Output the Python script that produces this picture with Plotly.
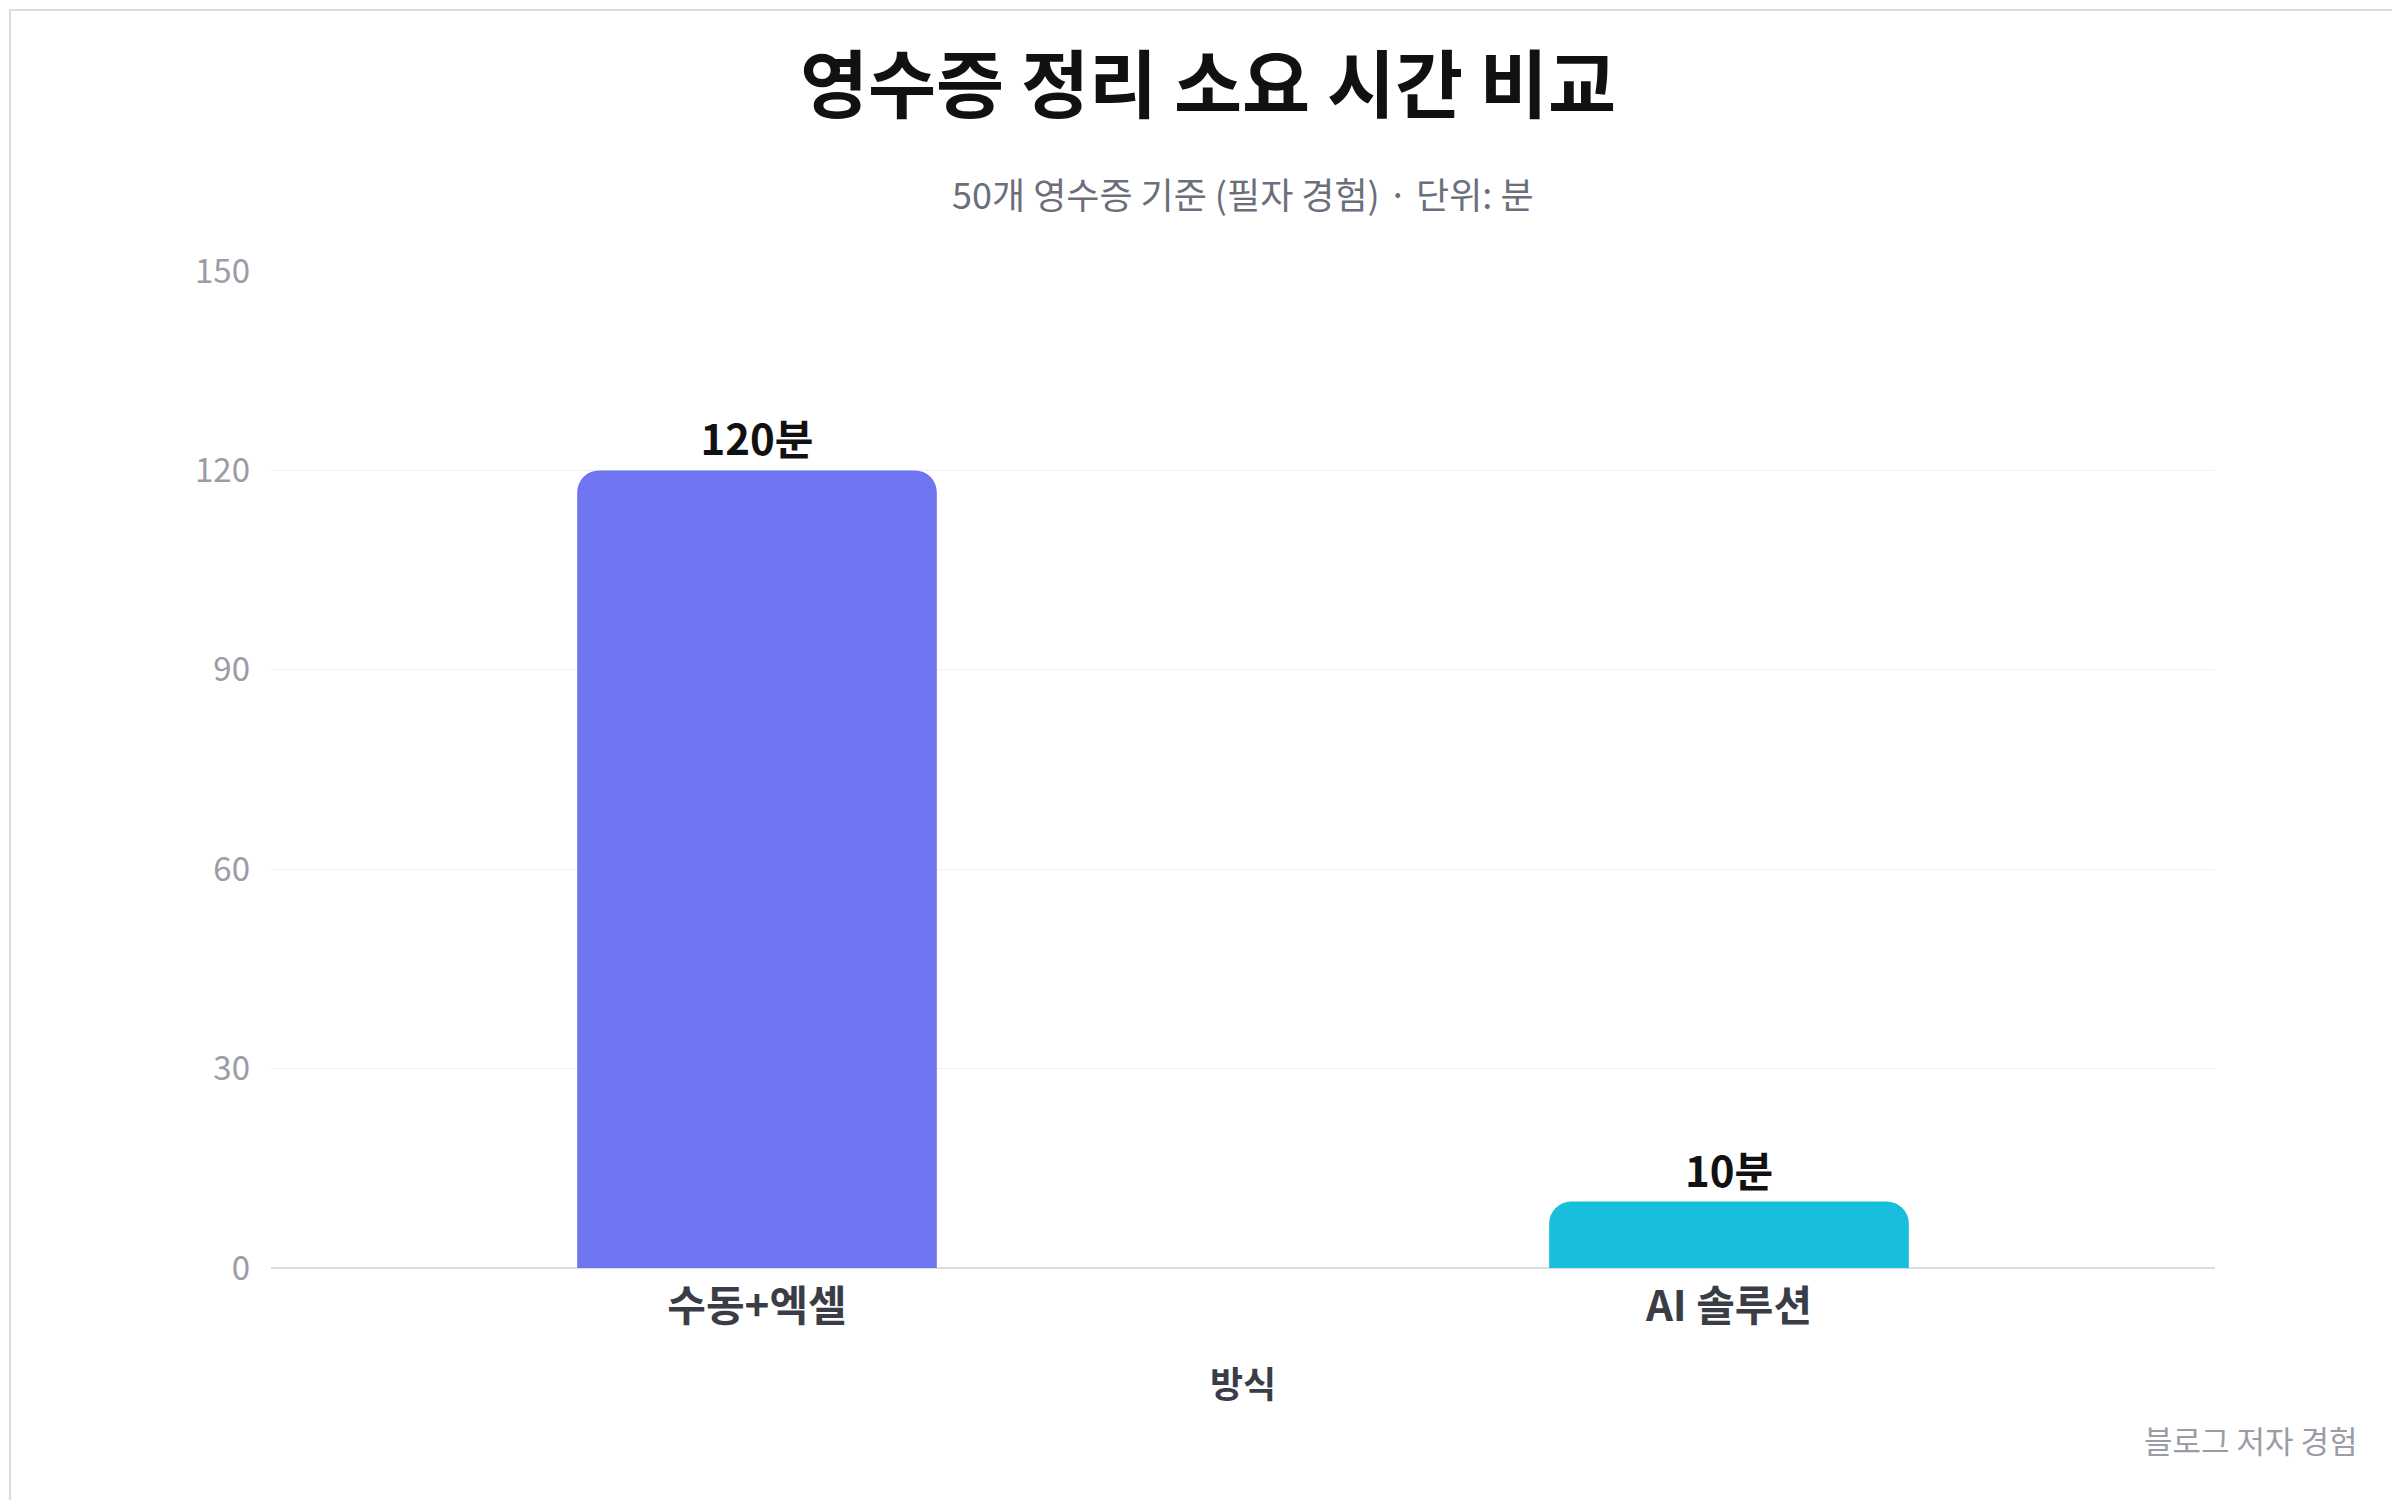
import plotly.graph_objects as go

# chart data
methods = ["수동+엑셀", "AI 솔루션"]
minutes = [120, 10]
bar_colors = ["#6f75f1", "#17bfdc"]
y_ticks = [0, 30, 60, 90, 120, 150]

font = "Noto Sans CJK KR"

fig = go.Figure()
fig.add_trace(go.Bar(
    x=methods, y=minutes, width=0.37,
    marker=dict(color=bar_colors, cornerradius=22, line=dict(width=0)),
    text=[f"{v}분" for v in minutes], textposition="outside",
    textfont=dict(family=font, size=42, color="#111111", weight="bold"),
    cliponaxis=False,
))

fig.update_layout(
    width=2400, height=1500,
    paper_bgcolor="white", plot_bgcolor="white",
    margin=dict(l=263, r=193, t=263, b=240),
    showlegend=False,
    font=dict(family=font),
    title=dict(
        text="<b>영수증 정리 소요 시간 비교</b>",
        x=0.5, xanchor="center", y=0.965, yanchor="top",
        font=dict(family=font, size=74, color="#111111"),
    ),
    annotations=[
        dict(text="50개 영수증 기준 (필자 경험) · 단위: 분", x=0.5, y=(1260 - 157) / 997,
             xref="paper", yref="paper", showarrow=False,
             font=dict(family=font, size=36, color="#6b6f7b")),
        dict(text="블로그 저자 경험", x=(2352 - 263) / 1944, y=(1260 - 1456) / 997,
             xref="paper", yref="paper", xanchor="right", showarrow=False,
             font=dict(family=font, size=31, color="#9a9ca6")),
    ],
    shapes=[dict(type="rect", xref="paper", yref="paper",
                 x0=-261 / 1944, x1=1 + 190 / 1944, y0=-238 / 997, y1=1 + 261 / 997,
                 line=dict(color="#dddddd", width=2), layer="below")],
)

fig.update_yaxes(
    range=[0, 150], tickvals=y_ticks, showgrid=True, gridcolor="#f1f1f3",
    zeroline=True, zerolinecolor="#dcdde2", zerolinewidth=2,
    tickfont=dict(family=font, size=33, color="#9a9ca6"), ticklabelstandoff=20,
)
fig.update_xaxes(
    tickfont=dict(family=font, size=42, color="#3a3d46", weight="bold"),
    title=dict(text="<b>방식</b>", font=dict(family=font, size=36, color="#3a3d46"), standoff=40),
    showline=False, ticklabelstandoff=10,
)

fig.write_html("out.html")
